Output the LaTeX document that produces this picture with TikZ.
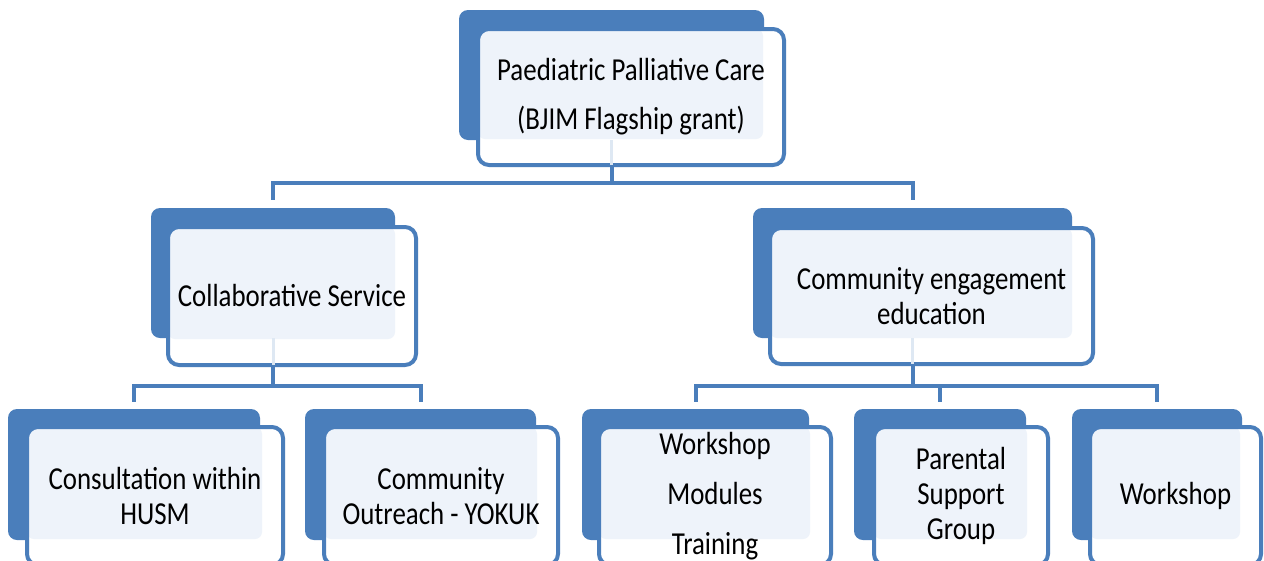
\documentclass[tikz,border=0pt]{standalone}
\usepackage{fontspec}
\setmainfont[FakeStretch=0.84]{Carlito}
\definecolor{orgblue}{HTML}{4A7EBB}
\definecolor{orglight}{HTML}{EEF3FA}

\begin{document}
\begin{tikzpicture}[x=1pt, y=-1pt, font=\fontsize{32}{35}\selectfont, every node/.style={align=center},
    back/.style={fill=orgblue, rounded corners=9pt, inner sep=0pt},
    front/.style={draw=orgblue, line width=4pt, fill=white, rounded corners=11pt, inner sep=0pt,
        path picture={\fill[orglight, rounded corners=7pt] (path picture bounding box.north west)
            rectangle ([xshift=-21pt, yshift=26pt]path picture bounding box.south east);}},
    link/.style={orgblue, line width=4pt},
    faint/.style={orgblue!18, line width=3pt}]
    \clip (0,0) rectangle (1264,560);
    \fill[white] (0,0) rectangle (1264,560);

    % back plates
    \node[back, minimum width=305pt, minimum height=130pt] (ppcB) at (611.5,75) {};
    \node[back, minimum width=244pt, minimum height=130pt] (colB) at (273,273) {};
    \node[back, minimum width=319pt, minimum height=130pt] (comB) at (912.5,273) {};
    \node[back, minimum width=252pt, minimum height=131pt] (conB) at (134,474.5) {};
    \node[back, minimum width=231pt, minimum height=131pt] (outB) at (420.5,474.5) {};
    \node[back, minimum width=227pt, minimum height=131pt] (wmtB) at (695.5,474.5) {};
    \node[back, minimum width=172pt, minimum height=131pt] (parB) at (940,474.5) {};
    \node[back, minimum width=170pt, minimum height=131pt] (wksB) at (1157,474.5) {};

    % front boxes with the text
    \node[front, minimum width=306pt, minimum height=136pt] (ppc) at (631,97) {Paediatric Palliative Care\\[14pt](BJIM Flagship grant)};
    \node[front, minimum width=248pt, minimum height=138pt] (col) at (292,296) {Collaborative Service};
    \node[front, minimum width=323pt, minimum height=136pt] (com) at (931.5,296) {Community engagement\\education};
    \node[front, minimum width=256pt, minimum height=138pt] (con) at (155,496) {Consultation within\\HUSM};
    \node[front, minimum width=234pt, minimum height=138pt] (out) at (441,496) {Community\\Outreach - YOKUK};
    \node[front, minimum width=232pt, minimum height=138pt] (wmt) at (715,496) {Workshop\\[15pt]Modules\\[15pt]Training};
    \node[front, minimum width=174pt, minimum height=138pt] (par) at (961,496) {Parental\\Support\\Group};
    \node[front, minimum width=171pt, minimum height=138pt] (wks) at (1175.5,496) {Workshop};

    % connectors
    \coordinate (bus1) at (0,183);
    \coordinate (bus2) at (0,386);
    \draw[faint, shorten >=2pt] (ppcB.south) -- (ppcB.south |- ppc.south);
    \draw[faint, shorten >=2pt] (colB.south) -- (colB.south |- col.south);
    \draw[faint, shorten >=2pt] (comB.south) -- (comB.south |- com.south);
    \draw[link] (ppcB.south |- ppc.south) -- (ppcB.south |- bus1);
    \draw[link] ([yshift=8pt]colB.north) |- (bus1 -| comB.north) -- ([yshift=8pt]comB.north);
    \draw[link] (colB.south |- col.south) -- (colB.south |- bus2);
    \draw[link] ([yshift=7pt]conB.north) |- (bus2 -| outB.north) -- ([yshift=7pt]outB.north);
    \draw[link] (comB.south |- com.south) -- (comB.south |- bus2);
    \draw[link] ([yshift=7pt]wmtB.north) |- (bus2 -| wksB.north) -- ([yshift=7pt]wksB.north);
    \draw[link] ([yshift=7pt]parB.north) -- (parB.north |- bus2);
\end{tikzpicture}
\end{document}
